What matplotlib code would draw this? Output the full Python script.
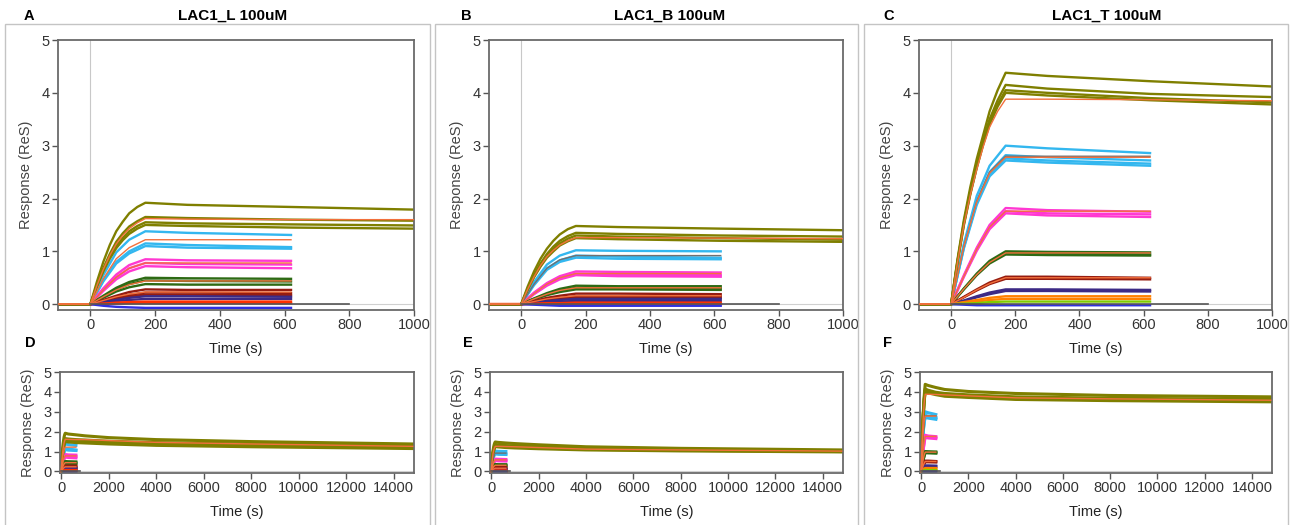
import matplotlib
matplotlib.use('Agg')
from matplotlib import pyplot as plt
from matplotlib.patches import Rectangle

plt.rcParams['font.family'] = ['Liberation Sans', 'DejaVu Sans']

# time points (s)
T_SHORT = [-100, 0, 40, 80, 120, 170, 300, 620]
T_LONG = [-100, 0, 20, 40, 60, 80, 100, 120, 145, 170, 300, 620,
          1000, 2000, 4000, 8000, 14800]
T_BLANK = [0, 800]
BLANK = [0, 0]

titles = ['LAC1_L 100uM', 'LAC1_B 100uM', 'LAC1_T 100uM']

# ---- LAC1_L ----
L_long = [
    [0, 0, 0.42, 0.80, 1.12, 1.38, 1.56, 1.72, 1.84, 1.92, 1.88, 1.84, 1.79, 1.70, 1.60, 1.50, 1.38],
    [0, 0, 0.36, 0.68, 0.95, 1.18, 1.34, 1.47, 1.57, 1.65, 1.63, 1.60, 1.58, 1.52, 1.45, 1.38, 1.27],
    [0, 0, 0.34, 0.64, 0.89, 1.10, 1.25, 1.38, 1.48, 1.55, 1.53, 1.51, 1.49, 1.44, 1.37, 1.30, 1.20],
    [0, 0, 0.33, 0.62, 0.86, 1.06, 1.21, 1.33, 1.43, 1.50, 1.48, 1.45, 1.43, 1.38, 1.31, 1.24, 1.15],
]
L_long_fit = [0, 0, 0.35, 0.66, 0.92, 1.14, 1.30, 1.43, 1.54, 1.62, 1.61, 1.60, 1.60, 1.55, 1.46, 1.38, 1.26]
L_short = [
    [0, 0, 0.55, 0.98, 1.22, 1.38, 1.35, 1.31],
    [0, 0, 0.45, 0.80, 1.00, 1.15, 1.12, 1.08],
    [0, 0, 0.43, 0.77, 0.96, 1.10, 1.07, 1.05],
    [0, 0, 0.30, 0.56, 0.74, 0.85, 0.83, 0.82],
    [0, 0, 0.27, 0.51, 0.68, 0.78, 0.76, 0.75],
    [0, 0, 0.25, 0.47, 0.62, 0.72, 0.70, 0.68],
    [0, 0, 0.16, 0.31, 0.42, 0.50, 0.49, 0.48],
    [0, 0, 0.14, 0.28, 0.38, 0.45, 0.44, 0.43],
    [0, 0, 0.12, 0.24, 0.32, 0.38, 0.37, 0.37],
    [0, 0, 0.08, 0.16, 0.23, 0.28, 0.27, 0.27],
    [0, 0, 0.06, 0.13, 0.18, 0.22, 0.22, 0.21],
    [0, 0, 0.05, 0.10, 0.15, 0.18, 0.18, 0.17],
    [0, 0, 0.04, 0.08, 0.12, 0.15, 0.15, 0.14],
    [0, 0, 0.03, 0.06, 0.08, 0.10, 0.10, 0.10],
    [0, 0, 0.01, 0.03, 0.04, 0.05, 0.05, 0.05],
    [0, 0, 0.01, 0.01, 0.02, 0.02, 0.02, 0.02],
    [0, 0, -0.03, -0.05, -0.06, -0.07, -0.07, -0.07],
]
L_short_fit = [
    [0, 0, 0.48, 0.86, 1.07, 1.22, 1.22, 1.22],
    [0, 0, 0.27, 0.51, 0.68, 0.78, 0.78, 0.78],
    [0, 0, 0.14, 0.27, 0.37, 0.44, 0.44, 0.44],
    [0, 0, 0.07, 0.14, 0.19, 0.23, 0.23, 0.23],
]

# ---- LAC1_B ----
B_long = [
    [0, 0, 0.33, 0.62, 0.86, 1.05, 1.20, 1.32, 1.42, 1.48, 1.46, 1.43, 1.40, 1.34, 1.24, 1.16, 1.08],
    [0, 0, 0.29, 0.55, 0.77, 0.95, 1.09, 1.20, 1.29, 1.35, 1.33, 1.30, 1.28, 1.23, 1.15, 1.10, 1.04],
    [0, 0, 0.28, 0.53, 0.74, 0.91, 1.04, 1.15, 1.24, 1.30, 1.28, 1.25, 1.22, 1.18, 1.11, 1.06, 1.00],
    [0, 0, 0.27, 0.51, 0.71, 0.88, 1.00, 1.11, 1.19, 1.25, 1.23, 1.20, 1.18, 1.14, 1.08, 1.03, 0.98],
]
B_long_fit = [0, 0, 0.28, 0.52, 0.73, 0.90, 1.02, 1.12, 1.20, 1.26, 1.26, 1.25, 1.24, 1.20, 1.12, 1.08, 1.02]
B_short = [
    [0, 0, 0.42, 0.75, 0.92, 1.02, 1.01, 1.00],
    [0, 0, 0.38, 0.68, 0.83, 0.92, 0.90, 0.88],
    [0, 0, 0.36, 0.65, 0.80, 0.88, 0.86, 0.85],
    [0, 0, 0.22, 0.40, 0.53, 0.62, 0.61, 0.60],
    [0, 0, 0.20, 0.37, 0.50, 0.58, 0.56, 0.55],
    [0, 0, 0.19, 0.35, 0.47, 0.55, 0.53, 0.52],
    [0, 0, 0.11, 0.21, 0.29, 0.35, 0.34, 0.34],
    [0, 0, 0.10, 0.19, 0.26, 0.31, 0.31, 0.30],
    [0, 0, 0.09, 0.17, 0.23, 0.28, 0.28, 0.27],
    [0, 0, 0.06, 0.12, 0.16, 0.20, 0.20, 0.19],
    [0, 0, 0.05, 0.09, 0.12, 0.15, 0.15, 0.15],
    [0, 0, 0.04, 0.07, 0.10, 0.12, 0.12, 0.12],
    [0, 0, 0.03, 0.06, 0.08, 0.10, 0.10, 0.10],
    [0, 0, 0.02, 0.04, 0.05, 0.06, 0.06, 0.06],
    [0, 0, 0.01, 0.02, 0.02, 0.03, 0.03, 0.03],
    [0, 0, 0.00, 0.00, 0.00, 0.00, 0.00, 0.00],
    [0, 0, -0.01, -0.02, -0.03, -0.03, -0.03, -0.03],
]
B_short_fit = [
    [0, 0, 0.38, 0.68, 0.84, 0.92, 0.92, 0.92],
    [0, 0, 0.20, 0.38, 0.50, 0.58, 0.58, 0.58],
    [0, 0, 0.10, 0.19, 0.26, 0.31, 0.31, 0.31],
    [0, 0, 0.05, 0.10, 0.13, 0.16, 0.16, 0.16],
]

# ---- LAC1_T ----
T_long = [
    [0, 0, 0.85, 1.60, 2.22, 2.75, 3.20, 3.65, 4.05, 4.38, 4.32, 4.22, 4.12, 4.02, 3.92, 3.82, 3.75],
    [0, 0, 0.82, 1.55, 2.15, 2.65, 3.10, 3.50, 3.86, 4.15, 4.08, 3.98, 3.92, 3.85, 3.75, 3.68, 3.62],
    [0, 0, 0.80, 1.52, 2.10, 2.60, 3.05, 3.45, 3.78, 4.05, 4.00, 3.90, 3.82, 3.76, 3.66, 3.60, 3.55],
    [0, 0, 0.79, 1.50, 2.08, 2.58, 3.02, 3.40, 3.74, 4.00, 3.95, 3.86, 3.78, 3.72, 3.62, 3.56, 3.50],
]
T_long_fit = [0, 0, 0.79, 1.50, 2.07, 2.55, 2.98, 3.35, 3.65, 3.88, 3.88, 3.87, 3.85, 3.80, 3.70, 3.65, 3.58]
T_short = [
    [0, 0, 1.15, 2.05, 2.62, 3.00, 2.95, 2.86],
    [0, 0, 1.10, 1.95, 2.50, 2.82, 2.78, 2.72],
    [0, 0, 1.08, 1.92, 2.46, 2.76, 2.72, 2.66],
    [0, 0, 1.06, 1.88, 2.42, 2.72, 2.68, 2.62],
    [0, 0, 0.55, 1.07, 1.50, 1.82, 1.78, 1.75],
    [0, 0, 0.53, 1.04, 1.46, 1.76, 1.72, 1.70],
    [0, 0, 0.52, 1.01, 1.42, 1.72, 1.68, 1.65],
    [0, 0, 0.30, 0.58, 0.82, 1.00, 0.99, 0.98],
    [0, 0, 0.29, 0.56, 0.79, 0.97, 0.96, 0.94],
    [0, 0, 0.28, 0.55, 0.77, 0.94, 0.93, 0.92],
    [0, 0, 0.14, 0.28, 0.41, 0.52, 0.52, 0.50],
    [0, 0, 0.13, 0.26, 0.38, 0.48, 0.48, 0.47],
    [0, 0, 0.07, 0.15, 0.22, 0.28, 0.28, 0.27],
    [0, 0, 0.06, 0.13, 0.19, 0.25, 0.25, 0.24],
    [0, 0, 0.04, 0.08, 0.12, 0.15, 0.15, 0.15],
    [0, 0, 0.03, 0.05, 0.08, 0.10, 0.10, 0.10],
    [0, 0, 0.01, 0.02, 0.04, 0.05, 0.05, 0.05],
    [0, 0, -0.01, -0.02, -0.02, -0.02, -0.02, -0.02],
]
T_short_fit = [
    [0, 0, 1.10, 1.95, 2.50, 2.80, 2.80, 2.80],
    [0, 0, 1.10, 1.94, 2.48, 2.78, 2.78, 2.78],
    [0, 0, 0.53, 1.04, 1.46, 1.76, 1.76, 1.76],
    [0, 0, 0.29, 0.56, 0.79, 0.97, 0.97, 0.97],
    [0, 0, 0.13, 0.27, 0.39, 0.50, 0.50, 0.50],
]

# colours
olive = '#7f7f00'
fitc = '#f2703c'
cyan = '#33b7ef'
mag = '#ff38d2'
dgreen = '#2d6a14'
dred = '#961c10'
navy = '#3c2a86'
red = '#ff3000'
blue = '#3030e0'
orange = '#ff8000'
lgreen = '#80cc00'
gfit = '#707070'

L_colors = [cyan]*3 + [mag]*3 + [dgreen]*3 + [dred]*3 + [navy]*2 + [red]*2 + [blue]
B_colors = L_colors
T_colors = [cyan]*4 + [mag]*3 + [dgreen]*3 + [dred]*2 + [navy]*2 + [orange]*2 + [lgreen] + [blue]
L_fitc = [fitc]*4
B_fitc = [gfit] + [fitc]*3
T_fitc = [gfit] + [fitc]*4

panels = [
    (L_long, L_long_fit, L_short, L_short_fit, L_colors, L_fitc),
    (B_long, B_long_fit, B_short, B_short_fit, B_colors, B_fitc),
    (T_long, T_long_fit, T_short, T_short_fit, T_colors, T_fitc),
]

W, H = 1295, 525
fig = plt.figure(figsize=(W/100, H/100), dpi=100)

def rect(x0, y0, x1, y1):
    return [x0/W, 1 - y1/H, (x1 - x0)/W, (y1 - y0)/H]

top_x = [(58, 414), (489, 843), (919, 1272)]
bot_x = [(60, 414), (490, 843), (920, 1272)]
frames = [(5, 430), (435, 858), (864, 1288)]
letters_top = ['A', 'B', 'C']
letters_bot = ['D', 'E', 'F']
letter_x = [29, 466, 889]
letter_bx = [30, 468, 888]
title_x = [233, 670, 1107]

def style_ax(ax):
    for s in ax.spines.values():
        s.set_color('#6a6a6a')
        s.set_linewidth(1.3)
    ax.tick_params(direction='out', length=4, width=1, color='#555555',
                   labelsize=10.5, labelcolor='#333333', pad=2)

def draw(ax, data, lw_scale=1.0):
    lng, lfit, sht, sfit, cols, fcols = data
    ax.axhline(0, color='#d0d0d0', lw=0.8, zorder=0)
    for row, c in zip(sht, cols):
        ax.plot(T_SHORT, row, color=c, lw=1.7*lw_scale, zorder=2)
    for row, c in zip(sfit, fcols):
        ax.plot(T_SHORT, row, color=c, lw=1.0, zorder=3)
    for row in lng:
        ax.plot(T_LONG, row, color=olive, lw=1.7*lw_scale, zorder=2)
    ax.plot(T_LONG, lfit, color=fitc, lw=1.0, zorder=3)
    ax.plot(T_BLANK, BLANK, color='#555555', lw=1.2, zorder=3)

for i in range(3):
    fx0, fx1 = frames[i]
    fig.add_artist(Rectangle((fx0/W, -0.01), (fx1 - fx0)/W, 1 - 24/H + 0.01,
                             transform=fig.transFigure, fill=False,
                             ec='#c4c4c4', lw=1.0))
    fig.text(letter_x[i]/W, 1 - 16/H, letters_top[i], fontsize=10.5,
             fontweight='bold', ha='center', va='center')
    fig.text(title_x[i]/W, 1 - 16/H, titles[i], fontsize=11,
             fontweight='bold', ha='center', va='center')
    fig.text(letter_bx[i]/W, 1 - 343/H, letters_bot[i], fontsize=10.5,
             fontweight='bold', ha='center', va='center')

    x0, x1 = top_x[i]
    ax = fig.add_axes(rect(x0, 40, x1, 310))
    draw(ax, panels[i])
    ax.axvline(0, color='#c8c8c8', lw=0.8, zorder=0)
    ax.set_xlim(-100, 1000)
    ax.set_ylim(-0.11, 5)
    ax.set_xticks([0, 200, 400, 600, 800, 1000])
    ax.set_yticks([0, 1, 2, 3, 4, 5])
    ax.set_xlabel('Time (s)', fontsize=10.5, color='#222222', labelpad=7)
    ax.set_ylabel('Response (ReS)', fontsize=10.5, color='#444444', labelpad=6)
    style_ax(ax)

    x0, x1 = bot_x[i]
    ax = fig.add_axes(rect(x0, 372, x1, 473))
    draw(ax, panels[i], lw_scale=1.3)
    ax.set_xlim(-50, 14850)
    ax.set_ylim(-0.08, 5)
    ax.set_xticks(range(0, 14001, 2000))
    ax.set_yticks([0, 1, 2, 3, 4, 5])
    ax.set_xlabel('Time (s)', fontsize=10.5, color='#222222', labelpad=7)
    ax.set_ylabel('Response (ReS)', fontsize=10.5, color='#444444', labelpad=6)
    style_ax(ax)

fig.savefig('out.png', dpi=100, facecolor='white')
